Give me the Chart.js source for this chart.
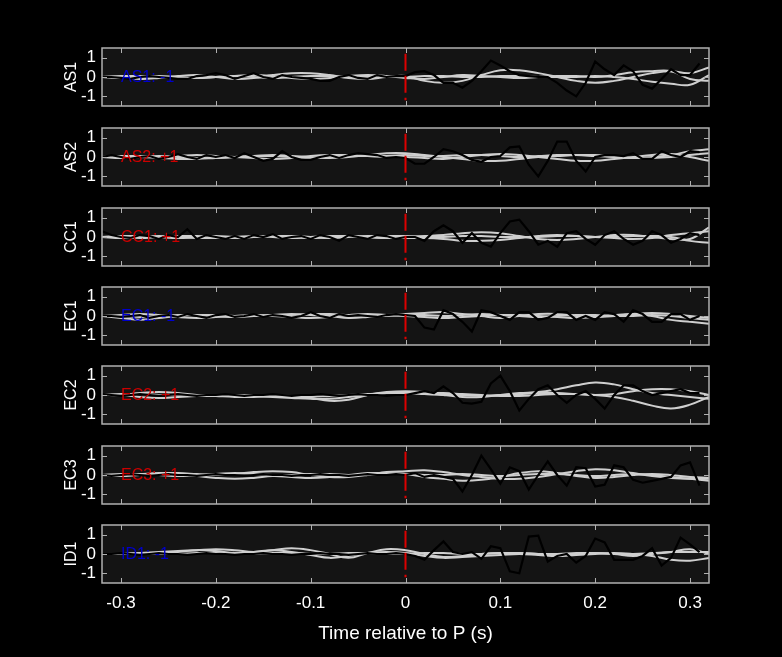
<!DOCTYPE html>
<html><head><meta charset="utf-8">
<script src="https://cdn.jsdelivr.net/npm/chart.js@4"></script>
<style>body{margin:0;background:#000;width:782px;height:657px;overflow:hidden;position:relative;font-family:"Liberation Sans",Arial,sans-serif}
canvas{position:absolute;left:0}</style></head><body>
<script>
const times=[-0.32,-0.31,-0.30,-0.29,-0.28,-0.27,-0.26,-0.25,-0.24,-0.23,-0.22,-0.21,-0.20,-0.19,-0.18,-0.17,-0.16,-0.15,-0.14,-0.13,-0.12,-0.11,-0.10,-0.09,-0.08,-0.07,-0.06,-0.05,-0.04,-0.03,-0.02,-0.01,0,0.01,0.02,0.03,0.04,0.05,0.06,0.07,0.08,0.09,0.10,0.11,0.12,0.13,0.14,0.15,0.16,0.17,0.18,0.19,0.20,0.21,0.22,0.23,0.24,0.25,0.26,0.27,0.28,0.29,0.30,0.31,0.32];
const grayTimes=[-0.32,-0.30,-0.28,-0.26,-0.24,-0.22,-0.20,-0.18,-0.16,-0.14,-0.12,-0.10,-0.08,-0.06,-0.04,-0.02,0,0.02,0.04,0.06,0.08,0.10,0.12,0.14,0.16,0.18,0.20,0.22,0.24,0.26,0.28,0.30,0.32];
const stations=["AS1","AS2","CC1","EC1","EC2","EC3","ID1"];
const polarity=["-1","+1","+1","-1","+1","+1","-1"];
const xTicks=[-0.3,-0.2,-0.1,0,0.1,0.2,0.3];
const yTicks=[-1,0,1];
const black={
AS1:[0,0,-0.05,-0.1,0,0.05,0,-0.05,-0.1,-0.1,0.05,0.1,0.2,0.1,-0.1,0.05,0.2,0,-0.1,0.1,0,-0.05,-0.1,-0.2,-0.2,0,0.1,-0.05,-0.1,0.1,0,0.05,0.05,0.25,0.3,0.1,-0.3,-0.3,-0.55,-0.2,0.3,0.85,0.6,0.3,0.1,0.05,0,0,-0.3,-0.7,-1.0,-0.3,0.8,0.4,0.1,0.6,0.3,-0.4,-0.6,-0.1,0.4,0.1,0.1,0.7,null],
AS2:[0,0.1,0,-0.1,0,0.05,-0.1,0,0.15,0,-0.1,0.1,0,0.1,-0.05,0.2,0,-0.2,-0.1,0.3,0,-0.15,-0.15,0,0.1,-0.05,0.1,0.2,0.15,0.1,-0.05,0,-0.05,-0.35,-0.35,0,0.4,0.3,0.1,-0.15,-0.25,0,0.05,0.5,0.55,-0.4,-1.0,-0.2,0.8,0.8,-0.2,-0.75,0,0.1,0.1,0.05,0.2,-0.1,-0.1,0.3,0.1,0,0.3,0.25,null],
CC1:[0.3,0.1,0,-0.05,0.1,0.05,-0.1,0.1,0,0.4,-0.1,0.1,0,-0.1,0.05,-0.1,0.1,0,0.15,-0.1,0,0.05,-0.1,0.1,0,-0.2,0.1,0,-0.1,0.1,0.05,-0.1,0,0,-0.2,0.3,0.6,0.3,-0.3,0.2,-0.3,-0.5,0.2,0.8,0.9,0.3,-0.4,-0.2,-0.5,0.2,0.3,-0.1,-0.4,0.1,0.3,-0.1,-0.4,-0.2,0.3,0.1,-0.3,-0.1,0.2,0.1,null],
EC1:[0,0,-0.05,0,0.05,-0.1,0,0.05,-0.05,0.1,0,-0.1,0.05,0.1,-0.05,0,0.1,-0.05,0.05,0,-0.1,0,0.2,0,-0.1,0.1,0,0.05,0,-0.05,0.05,0.1,0.05,0,-0.6,-0.7,0.3,0.1,-0.3,-0.8,0.3,0.2,0,-0.2,0.2,0.2,-0.2,-0.1,0.2,0.2,-0.2,0,-0.2,0.2,0.1,-0.3,0.3,0.1,-0.3,-0.3,0.1,0.1,-0.2,0,null],
EC2:[0.05,0,-0.05,0,0.05,0,-0.05,0,0.05,0,-0.05,0,0,0.05,0,-0.05,0,0,0.05,0,-0.05,0,0,0.05,0,-0.05,0,0.05,0,0,-0.05,0,0,0.1,0.2,0.1,0.45,0.1,-0.4,-0.45,-0.35,0.6,1.0,0.2,-0.8,-0.2,0.3,0.5,0,-0.4,0,0.2,-0.2,-0.7,0,0.5,0.5,0.2,0,0.1,0.2,0.3,0.1,0.1,null],
EC3:[0,-0.05,0,0.05,0,-0.05,0,0.05,0,0,-0.05,0,0.05,0,0,-0.05,0,0.05,0,0,-0.05,0,0,0.05,0,0,-0.05,0,0.05,0,0,0.05,0,0.1,-0.1,0,-0.1,-0.2,-0.85,0,1.0,0.3,-0.45,0.4,0.2,-0.75,0,0.7,0,-0.55,0.4,0.35,-0.6,-0.5,0.5,0.4,-0.25,-0.4,-0.3,-0.2,-0.1,0.5,0.65,-0.55,null],
ID1:[0,0,0.05,0,-0.05,0,0.05,0,0,-0.05,0,0.05,0,0,-0.05,0,0,0.05,0,0,-0.05,0,0,0.05,0,0,-0.05,0,0.05,0,0,0.05,0,-0.1,-0.3,0.2,0.65,0.1,0,0.1,-0.25,0.4,0.3,-0.9,-1.0,0.9,0.95,-0.4,-0.1,0,-0.45,-0.1,0.8,0.6,-0.3,-0.3,-0.3,-0.1,0.3,-0.6,-0.2,0.85,0.5,0.1,null]};
const grays={
AS1:[[0,0,-0.1,-0.05,0.05,0.1,0,-0.1,-0.05,0.1,0.2,0.2,0.1,-0.05,-0.1,0,0.05,-0.2,-0.3,-0.2,0.1,0.35,0.35,0.2,0,-0.2,-0.3,-0.2,0,0.2,0.3,0.2,0.5],[0,0.05,0.05,0,-0.05,-0.05,0,0.05,0.1,0.05,-0.05,-0.1,-0.05,0.05,0.1,0.05,-0.05,-0.1,0,0.1,0.05,0,-0.05,0,0.05,0.05,0,0.1,0.25,0.3,0.3,-0.1,-0.2],[0,-0.05,0,0.05,0,-0.05,0,0.05,0,-0.05,0,0.05,0.05,0,0,0,0,0.05,0.05,0,0,0.05,0.05,0,0,0,0.05,0,-0.1,-0.25,-0.35,-0.4,0.1]],
AS2:[[0,0,0,-0.05,-0.1,-0.1,-0.05,0,0.05,0.1,0.05,0,-0.05,0,0.1,0.2,0.2,0.1,0,-0.1,-0.2,-0.2,-0.1,0,0.05,0.1,0.1,0,-0.05,0,0.1,0.3,0.4],[0,0.05,0.05,0,0.05,0.1,0.05,0,-0.05,-0.1,-0.05,0.05,0.1,0.1,0.05,0,0,-0.05,-0.1,0,0.1,0.15,0.1,0,-0.1,-0.2,-0.2,-0.1,0,0.1,0.15,0,-0.2],[0,-0.05,0,0.05,0,-0.05,-0.05,0,0.05,0.05,0,-0.05,0,0.05,0.05,0.05,0.1,0.05,0.05,0.1,0.1,0.05,0,0.05,0.1,0.1,0.05,0,-0.05,-0.05,0,0.1,0.2]],
CC1:[[0,0,-0.05,0,0.05,0.05,0,-0.05,0,0.05,0,-0.05,0,0.05,0,-0.05,0,0.05,0.1,0.2,0.25,0.2,0.05,-0.1,-0.15,-0.1,0,0.1,0.1,0,-0.1,-0.1,0.5],[0,-0.05,0,0.05,0,-0.05,-0.05,0,0.05,0,-0.05,0,0.05,0.05,0,-0.05,-0.05,-0.05,-0.1,-0.2,-0.2,-0.15,-0.05,0.05,0.1,0.05,0,-0.05,-0.1,-0.05,0.1,0.2,0.3],[0,0.05,0.05,0,-0.05,0,0.05,0,0,0.05,0.05,0,-0.05,0,0.05,0.05,0.05,0,0,0.05,0.05,0,0,0,0.05,0.05,0,0,0.05,0.05,0,-0.2,-0.3]],
EC1:[[0,-0.1,-0.2,-0.1,0,0.05,0.05,0,0,0.05,0.1,0.05,0,-0.1,-0.05,0.05,0.1,0.15,0.2,0.1,0,-0.1,0,0.1,0.1,0,-0.05,0,0.1,0.15,0.1,0,-0.1],[0,0.05,0.1,0.05,-0.05,-0.1,-0.05,0,0.05,0,-0.05,-0.1,-0.05,0.05,0.1,0.05,0,-0.05,-0.1,-0.05,0,0.05,0.05,0,-0.05,-0.1,-0.05,0.05,0.1,0,-0.2,-0.3,-0.4],[0,0,-0.05,0,0.05,0.05,0,-0.05,0,0.05,0.05,0.1,0.1,0.05,0,0,0.05,0.05,0,0.05,0.1,0.05,0,-0.05,0,0.05,0.05,0,0,0.05,0,-0.1,-0.2]],
EC2:[[0,0,0.1,0.15,0.1,0,-0.05,-0.1,-0.1,-0.05,-0.05,-0.15,-0.3,-0.25,0,0.15,0.2,0.15,0,-0.1,-0.1,0,0.1,0.15,0.3,0.5,0.65,0.55,0.3,0.1,0,-0.1,-0.2],[0,0,-0.1,-0.15,-0.1,-0.05,0,0,-0.05,-0.1,-0.15,-0.2,-0.2,-0.1,0,0.1,0.15,0.1,0.1,0.05,0,-0.05,-0.05,0,0.05,0.05,0,-0.1,-0.3,-0.55,-0.7,-0.5,-0.1],[0,0.05,0.05,0,0,-0.05,-0.05,0,0,-0.05,-0.1,-0.1,-0.05,0,0.05,0.1,0.1,0.05,0,0,-0.05,0,0.05,0.1,0.1,0.05,0,0.05,0.2,0.3,0.3,0.2,0]],
EC3:[[0,0,0.05,0.1,0.1,0.05,0,0.05,0.15,0.2,0.15,0,-0.1,-0.1,0,0.15,0.2,0.25,0.15,0,-0.1,-0.2,-0.2,-0.1,0.05,0.2,0.3,0.25,0.1,-0.05,-0.15,-0.2,-0.2],[0,-0.05,0,0.05,0.05,-0.05,-0.15,-0.2,-0.15,-0.05,-0.1,-0.15,-0.1,0,0.1,0.1,0.05,-0.1,-0.2,-0.3,-0.25,-0.1,0.1,0.2,0.1,-0.05,-0.15,-0.1,0,0.05,0,-0.1,-0.15],[0,0.05,0.05,0,-0.05,0,0.05,0.1,0.05,0,0,0.05,0.05,0,0,0.05,0.05,0,0,0.05,0,-0.05,0,0.05,0.05,0,-0.05,0,0.05,0,-0.1,-0.2,-0.3]],
ID1:[[0,0,0.05,0.1,0.15,0.2,0.25,0.2,0.1,0.2,0.3,0.2,0,-0.2,0.05,0.25,0.2,0,-0.15,-0.1,0,0.05,0.05,0,-0.05,0,0.05,0,-0.1,0,0.1,0.25,0],[0,0,0,0.05,0.1,0.2,0.15,0.05,0.1,0.2,0.1,-0.05,-0.2,-0.1,0.05,0.1,0.05,-0.1,-0.2,-0.15,-0.1,-0.05,0,-0.05,-0.1,-0.05,0,0.05,0,-0.1,-0.3,-0.35,-0.2],[0,0,0.05,0,0,0.05,0.05,0,0,0.05,0.05,0,0,0.05,0.05,0,0,0.05,0.05,0,0,0.05,0.05,0,0,0.05,0.05,0,0,0.05,0.1,0.1,0.1]]};

const tops=[48,128,208,287,366,446,525];
const PH=58, PAD=20;
const FONT='"Liberation Sans", Arial, sans-serif';
const frame={id:'frame',
 beforeDraw(c){const a=c.chartArea,x=c.ctx;x.save();x.fillStyle='#141414';x.fillRect(a.left,a.top,a.right-a.left,a.bottom-a.top);x.restore();},
 afterDraw(c){const a=c.chartArea,x=c.ctx,sx=c.scales.x,sy=c.scales.y;x.save();
  x.strokeStyle='#b0b0b0';x.lineWidth=1;
  xTicks.forEach(t=>{const p=Math.round(sx.getPixelForValue(t))+0.5;x.beginPath();x.moveTo(p,a.top);x.lineTo(p,a.top+5);x.moveTo(p,a.bottom);x.lineTo(p,a.bottom-5);x.stroke();});
  yTicks.forEach(t=>{const p=Math.round(sy.getPixelForValue(t))+0.5;x.beginPath();x.moveTo(a.left,p);x.lineTo(a.left+5,p);x.moveTo(a.right,p);x.lineTo(a.right-5,p);x.stroke();});
  x.lineWidth=1.5;x.strokeRect(a.left,a.top,a.right-a.left,a.bottom-a.top);
  x.restore();},
 afterDatasetsDraw(c){const x=c.ctx,sx=c.scales.x,sy=c.scales.y;const o=c.options.plugins.frame;x.save();
  x.font='16px '+FONT;x.fillStyle=o.color;x.textBaseline='middle';
  x.fillText(o.label,sx.getPixelForValue(-0.3),sy.getPixelForValue(-0.05));x.restore();}};
stations.forEach((s,i)=>{
 const last=i===stations.length-1;
 const cv=document.createElement('canvas');
 const h=PH+2*PAD+(last?62:0);
 cv.width=782;cv.height=h;cv.style.width='782px';cv.style.height=h+'px';cv.style.top=(tops[i]-PAD)+'px';
 document.body.appendChild(cv);
 const ds=[];
 grays[s].forEach(g=>ds.push({data:grayTimes.map((t,k)=>({x:t,y:g[k]})),borderColor:'#cfcfcf',borderWidth:2,tension:0.4,pointRadius:0,order:3}));
 ds.push({data:times.map((t,k)=>({x:t,y:black[s][k]})),borderColor:'#000',borderWidth:2.2,tension:0,pointRadius:0,order:2});
 ds.push({data:[{x:0,y:1.2},{x:0,y:-1.2}],borderColor:'#dd0000',borderWidth:2,borderDash:[17,5],pointRadius:0,order:1});
 new Chart(cv,{type:'line',data:{datasets:ds},plugins:[frame],
  options:{responsive:false,animation:false,devicePixelRatio:1,
   layout:{padding:{left:62,right:73,top:PAD,bottom:PAD}},
   plugins:{legend:{display:false},tooltip:{enabled:false},frame:{label:s+': '+polarity[i],color:polarity[i]==='-1'?'#0000cc':'#cc0000'}},
   scales:{
    x:{type:'linear',min:-0.32,max:0.32,display:last,
     afterBuildTicks:sc=>{sc.ticks=xTicks.map(v=>({value:v}));},
     afterFit:sc=>{if(last)sc.height=62;},
     grid:{display:false,drawTicks:false},border:{display:false},
     ticks:{color:'#fff',font:{size:17,family:FONT},padding:10,autoSkip:false,maxRotation:0,callback:v=>v===0?'0':String(v)},
     title:{display:true,text:'Time relative to P (s)',color:'#fff',font:{size:19,family:FONT},padding:0}},
    y:{min:-1.5,max:1.5,
     afterBuildTicks:sc=>{sc.ticks=yTicks.map(v=>({value:v}));},
     afterFit:sc=>{sc.width=40;},
     grid:{display:false,drawTicks:false},border:{display:false},
     ticks:{color:'#fff',font:{size:17,family:FONT},padding:6,autoSkip:false},
     title:{display:true,text:s,color:'#fff',font:{size:16,family:FONT},padding:0}}}}});
});
</script></body></html>
